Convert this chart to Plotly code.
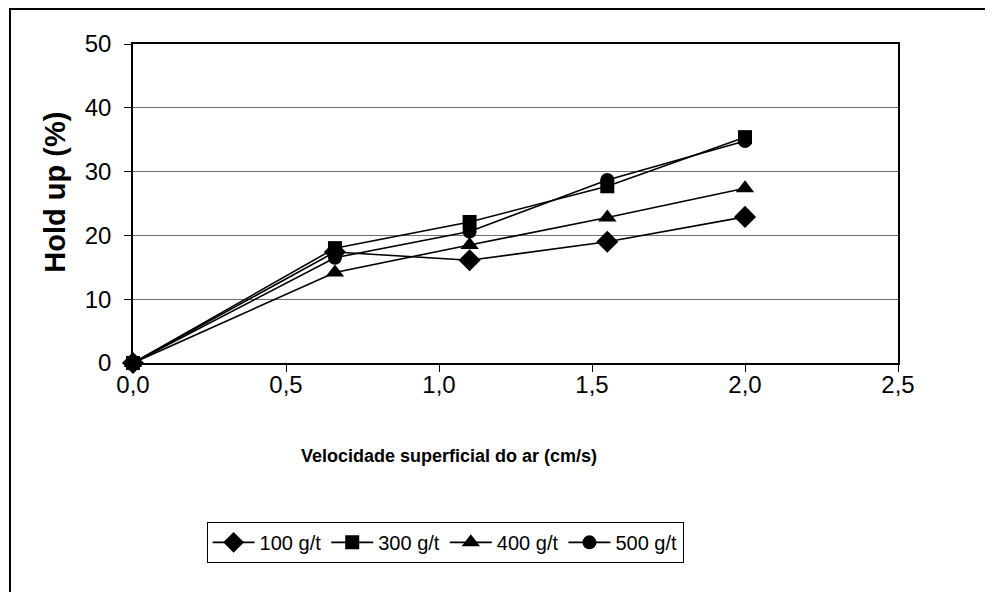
import plotly.graph_objects as go

# superficial air velocity (cm/s)
velocidade = [0.0, 0.66, 1.1, 1.55, 2.0]

# hold up (%) per collector dosage
hold_100 = [0.0, 17.4, 16.1, 19.0, 22.9]
hold_300 = [0.0, 18.0, 22.1, 27.7, 35.4]
hold_400 = [0.0, 14.2, 18.5, 22.8, 27.4]
hold_500 = [0.0, 16.5, 20.6, 28.7, 34.8]

series = [
    ("100 g/t", hold_100, "diamond", 17),
    ("300 g/t", hold_300, "square", 14),
    ("400 g/t", hold_400, "triangle-up", 16),
    ("500 g/t", hold_500, "circle", 14),
]

FONT = "Liberation Sans, Arial, sans-serif"

fig = go.Figure()
for name, vals, symbol, size in series:
    fig.add_trace(go.Scatter(
        x=velocidade, y=vals, name=name, mode="lines+markers",
        line=dict(color="black", width=1.6),
        marker=dict(symbol=symbol, size=size, color="black"),
        cliponaxis=False,
    ))

# the page body has an 8px margin, so the margins are shifted by 8px
fig.update_layout(
    width=993, height=592,
    margin=dict(l=125, r=103, t=36, b=237),
    paper_bgcolor="white", plot_bgcolor="white",
    separators=",.",
    font=dict(family=FONT, size=24, color="black"),
    showlegend=True,
    legend=dict(
        orientation="h", x=0.408, xanchor="center", y=-0.498, yanchor="top",
        bordercolor="black", borderwidth=1, font=dict(size=20),
        itemwidth=42, tracegroupgap=0,
    ),
)

fig.update_xaxes(
    range=[0, 2.5], dtick=0.5, tickformat=".1f",
    showgrid=False, zeroline=False,
    showline=True, linecolor="black", linewidth=2, mirror=True,
    ticks="outside", ticklen=7, tickcolor="black",
    ticklabelstandoff=-8,
    tickfont=dict(size=24),
)
fig.update_yaxes(
    range=[0, 50], dtick=10,
    showgrid=True, gridcolor="#6e6e6e", gridwidth=1, zeroline=False,
    showline=True, linecolor="black", linewidth=1.5, mirror=True,
    ticks="outside", ticklen=7, tickcolor="black",
    ticklabelstandoff=8,
    tickfont=dict(size=24),
)

fig.add_annotation(
    text="<b>Velocidade superficial do ar (cm/s)</b>",
    xref="paper", yref="paper", x=0.413, y=-0.2915, yanchor="middle",
    showarrow=False, font=dict(size=18),
)
fig.add_annotation(
    text="<b>Hold up (%)</b>", textangle=-90,
    xref="paper", yref="paper", x=-0.102, y=0.537, xanchor="center",
    showarrow=False, font=dict(size=29),
)

# outer chart border (only left and top edges fall inside the window)
fig.add_shape(
    type="rect", xref="paper", yref="paper",
    x0=-0.1608, x1=1.3, y0=-1.0, y1=1.1097,
    line=dict(color="black", width=2),
)

fig.write_html("out.html")
